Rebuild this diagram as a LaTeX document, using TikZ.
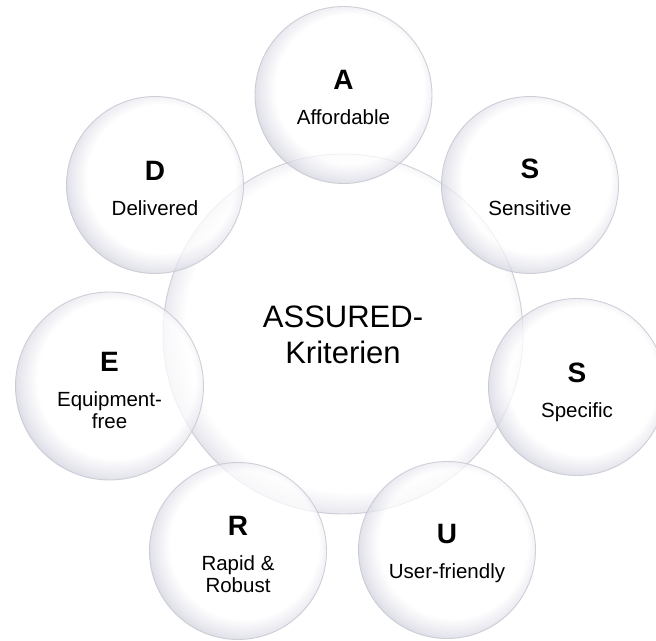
\documentclass[tikz,border=0pt]{standalone}
\usepackage{fontspec}
\setmainfont{Liberation Sans}

% soft lavender-grey rim of the glass bubbles
\definecolor{rimA}{RGB}{237,237,243}
\definecolor{rimB}{RGB}{219,219,230}
\definecolor{rimC}{RGB}{202,202,215}
\definecolor{edgegray}{RGB}{196,198,207}

% inner circle shifted up-right, so the rim is darker at the lower left
\pgfdeclareradialshading{bubble}{\pgfpoint{3bp}{3bp}}{%
  color(0bp)=(white); color(21bp)=(white); color(23.5bp)=(rimA);
  color(25.8bp)=(rimB); color(27.5bp)=(rimC); color(50bp)=(rimC)}
\pgfdeclareradialshading{bigbubble}{\pgfpoint{1.6bp}{1.6bp}}{%
  color(0bp)=(white); color(22.8bp)=(white); color(24.6bp)=(rimA);
  color(26bp)=(rimB); color(27bp)=(rimC); color(50bp)=(rimC)}

\tikzset{
  glass/.style={circle, inner sep=0pt, minimum size=#1, shade, shading=bubble,
    fill opacity=0.72, draw=edgegray, draw opacity=0.8, line width=0.9pt},
  bigglass/.style={glass=#1, shading=bigbubble},
  letter/.style={anchor=base, font=\fontsize{28}{30}\selectfont\bfseries},
  caption/.style={anchor=base, align=center, font=\fontsize{20.5}{21.5}\selectfont},
  centre/.style={anchor=base, align=center, font=\fontsize{31}{36}\selectfont},
}

\begin{document}
\begin{tikzpicture}[x=1pt, y=-1pt]
  \fill[white] (0,0) rectangle (656,640);
  \useasboundingbox (0,0) rectangle (656,640);

  % central bubble
  \node[bigglass=360pt] (core) at (343,334) {};

  % seven satellite bubbles
  \node[glass=177pt] (bA)  at (343.5,95)  {};
  \node[glass=177pt] (bS1) at (530,185)   {};
  \node[glass=177pt] (bS2) at (577,387)   {};
  \node[glass=177pt] (bU)  at (447,550)   {};
  \node[glass=177pt] (bR)  at (238,551)   {};
  \node[glass=188pt] (bE)  at (109.5,386) {};
  \node[glass=177pt] (bD)  at (155,185)   {};

  % labels (base anchor = baseline of the last line)
  \node[centre] (tcore) at (343,363) {ASSURED-\\Kriterien};

  \node[letter]  (lA) at (343.5,89)  {A};
  \node[caption] (cA) at (343.5,124) {Affordable};

  \node[letter]  (lS1) at (530,178) {S};
  \node[caption] (cS1) at (530,215) {Sensitive};

  \node[letter]  (lS2) at (577,382) {S};
  \node[caption] (cS2) at (577,417) {Specific};

  \node[letter]  (lU) at (447,543) {U};
  \node[caption] (cU) at (447,578) {User-friendly};

  \node[letter]  (lR) at (238,535) {R};
  \node[caption] (cR) at (238,592) {Rapid \&\\Robust};

  \node[letter]  (lE) at (109.5,371) {E};
  \node[caption] (cE) at (109.5,428) {Equipment-\\free};

  \node[letter]  (lD) at (155,180) {D};
  \node[caption] (cD) at (155,215) {Delivered};
\end{tikzpicture}
\end{document}
